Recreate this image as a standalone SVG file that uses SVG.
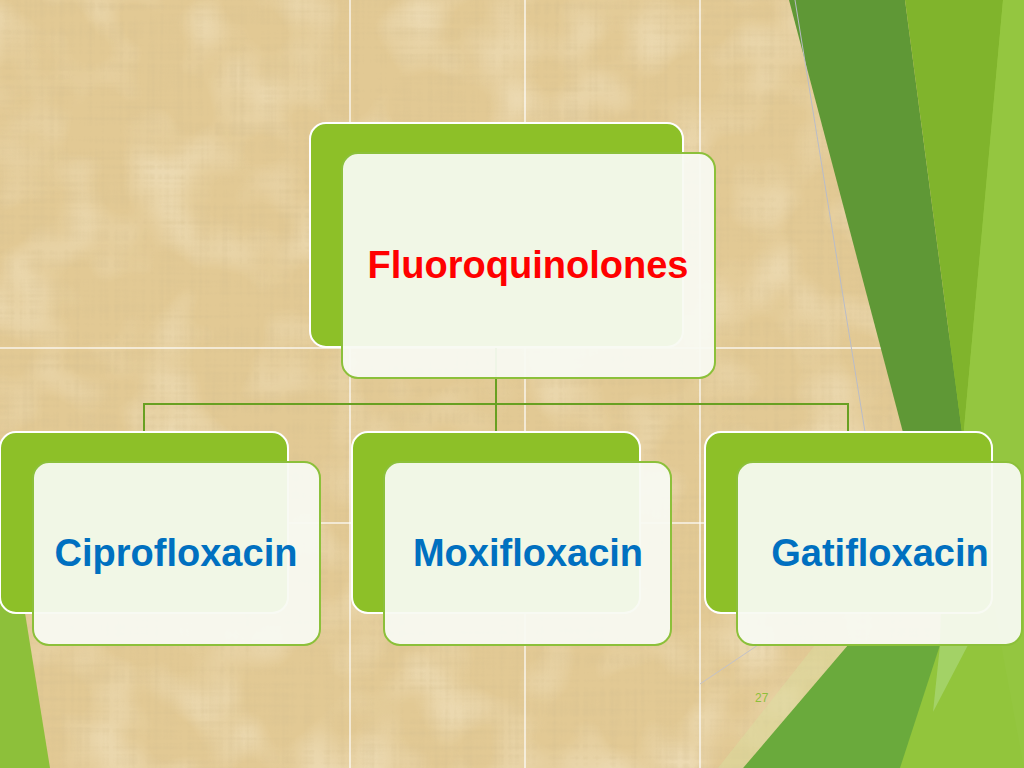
<svg xmlns="http://www.w3.org/2000/svg" width="1024" height="768" viewBox="0 0 1024 768">
  <defs>
    <style>
      .grid { stroke: #ffffff; stroke-width: 1.5; stroke-opacity: 0.8; fill: none; }
      .conn { stroke: #68a022; stroke-width: 2; fill: none; }
      .back { fill: #8dc028; stroke: #ffffff; stroke-width: 2; }
      .front { fill: #f8faf2; fill-opacity: 0.94; stroke: #8cc03a; stroke-width: 2; }
      .lbl { font-family: "Liberation Sans", Arial, sans-serif; font-weight: bold; font-size: 38px; text-anchor: middle; }
      .red { fill: #ff0000; }
      .blue { fill: #0070c0; }
      .pg { font-family: "Liberation Sans", Arial, sans-serif; font-size: 12px; fill: #8dbf3a; }
    </style>
    <filter id="papyrus" x="0" y="0" width="1024" height="768" filterUnits="userSpaceOnUse">
      <feTurbulence type="fractalNoise" baseFrequency="0.006 0.2" numOctaves="2" seed="3" result="h"/>
      <feTurbulence type="fractalNoise" baseFrequency="0.2 0.006" numOctaves="2" seed="9" result="v"/>
      <feComposite in="h" in2="v" operator="arithmetic" k2="0.5" k3="0.5" result="n"/>
      <feColorMatrix in="n" type="matrix" values="0 0 0 0 0.66  0 0 0 0 0.52  0 0 0 0 0.28  3 0 0 0 -1.35"/>
    </filter>
    <filter id="blotch" x="0" y="0" width="1024" height="768" filterUnits="userSpaceOnUse">
      <feTurbulence type="fractalNoise" baseFrequency="0.015" numOctaves="2" seed="21"/>
      <feColorMatrix type="matrix" values="0 0 0 0 1  0 0 0 0 0.96  0 0 0 0 0.84  2.5 0 0 0 -1.1"/>
    </filter>
  </defs>

  <!-- background -->
  <rect x="0" y="0" width="1024" height="768" fill="#e2c994"/>
  <rect x="0" y="0" width="1024" height="768" fill="#000" filter="url(#blotch)" opacity="0.35"/>
  <rect x="0" y="0" width="1024" height="768" fill="#000" filter="url(#papyrus)" opacity="0.4"/>

  <!-- grid -->
  <g id="grid">
    <line class="grid" x1="350" y1="0" x2="350" y2="768"/>
    <line class="grid" x1="525" y1="0" x2="525" y2="768"/>
    <line class="grid" x1="700" y1="0" x2="700" y2="768"/>
    <line class="grid" x1="0" y1="348" x2="960" y2="348"/>
    <line class="grid" x1="0" y1="523" x2="960" y2="523"/>
  </g>

  <!-- decorative green facets -->
  <g id="facets">
    <polygon points="960,0 1024,0 1024,768 880,768 940,640" fill="#92c53c"/>
    <polygon points="789,0 905,0 963,440 905,440" fill="#5f9836"/>
    <polygon points="905,0 1003,0 963,440" fill="#80b42c"/>
    <polygon points="1003,0 1024,0 1024,768 963,440" fill="#94c640"/>
    <polygon points="848,645 940,645 900,768 743,768" fill="#6aaa3c"/>
    <polygon points="940,645 968,645 933,712" fill="#a8d470" opacity="0.8"/>
    <polygon points="815,645 848,645 743,768 718,768" fill="#d8e4a0" opacity="0.35"/>
    <line x1="795" y1="0" x2="865" y2="432" stroke="#b9bcc8" stroke-width="1"/>
    <line x1="700" y1="684" x2="758" y2="645" stroke="#c4c2c8" stroke-width="1"/>
    <polygon points="0,458 50,768 0,768" fill="#8dc03a"/>
  </g>

  <!-- connectors -->
  <g id="connectors">
    <line class="conn" x1="496" y1="347" x2="496" y2="404"/>
    <line class="conn" x1="143" y1="404" x2="849" y2="404"/>
    <line class="conn" x1="144" y1="403" x2="144" y2="432"/>
    <line class="conn" x1="496" y1="403" x2="496" y2="432"/>
    <line class="conn" x1="848" y1="403" x2="848" y2="432"/>
  </g>

  <!-- nodes -->
  <g id="node-fluoroquinolones">
    <rect class="back" x="310" y="123" width="373" height="224" rx="16"/>
    <rect class="front" x="342" y="153" width="373" height="225" rx="16"/>
    <text class="lbl red" x="528" y="278">Fluoroquinolones</text>
  </g>

  <g id="node-ciprofloxacin">
    <rect class="back" x="0" y="432" width="288" height="181" rx="16"/>
    <rect class="front" x="33" y="462" width="287" height="183" rx="16"/>
    <text class="lbl blue" x="176" y="566">Ciprofloxacin</text>
  </g>

  <g id="node-moxifloxacin">
    <rect class="back" x="352" y="432" width="288" height="181" rx="16"/>
    <rect class="front" x="384" y="462" width="287" height="183" rx="16"/>
    <text class="lbl blue" x="528" y="566">Moxifloxacin</text>
  </g>

  <g id="node-gatifloxacin">
    <rect class="back" x="705" y="432" width="287" height="181" rx="16"/>
    <rect class="front" x="737" y="462" width="285" height="183" rx="16"/>
    <text class="lbl blue" x="880" y="566">Gatifloxacin</text>
  </g>

  <text class="pg" x="755" y="702">27</text>
</svg>
